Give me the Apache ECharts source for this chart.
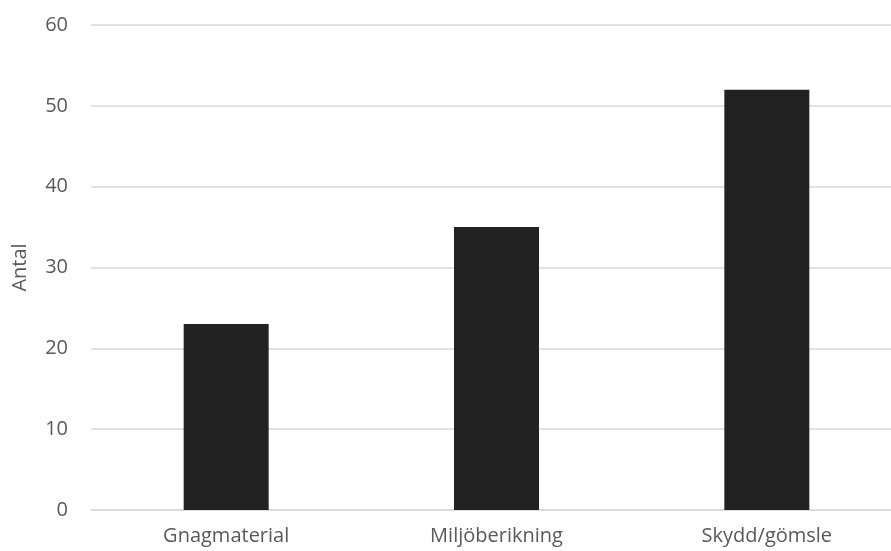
<!DOCTYPE html>
<html><head><meta charset="utf-8">
<script src="https://cdn.jsdelivr.net/npm/echarts@6/dist/echarts.min.js"></script>
<style>html,body{margin:0;padding:0;background:#fff}#c{width:891px;height:551px}</style>
</head><body><div id="c"></div>
<script>
const categories = ['Gnagmaterial', 'Miljöberikning', 'Skydd/gömsle'];
const values = [23, 35, 52];
const yTicks = { min: 0, max: 60, interval: 10 };
const yName = 'Antal';

const chart = echarts.init(document.getElementById('c'), null, { renderer: 'canvas' });
const font = '"Open Sans", "Noto Sans", sans-serif';
chart.setOption({
  animation: false,
  grid: { left: 91, right: -11, top: 25, bottom: 41, containLabel: false, outerBoundsMode: 'none' },
  xAxis: {
    type: 'category', data: categories,
    axisLine: { lineStyle: { color: '#d9d9d9', width: 1.5 } },
    axisTick: { show: false },
    axisLabel: { color: '#595959', fontSize: 20, fontFamily: font, margin: 16 }
  },
  yAxis: {
    type: 'value', min: yTicks.min, max: yTicks.max, interval: yTicks.interval,
    name: yName, nameLocation: 'middle', nameGap: 61, nameRotate: 90,
    nameTextStyle: { color: '#595959', fontSize: 20, fontFamily: font },
    axisLine: { show: false }, axisTick: { show: false },
    axisLabel: { color: '#595959', fontSize: 20, fontFamily: font, margin: 23 },
    splitLine: { lineStyle: { color: '#d9d9d9', width: 1.5 } }
  },
  series: [{
    type: 'bar', data: values, barWidth: 85,
    itemStyle: { color: '#222222' }
  }]
});
</script></body></html>
